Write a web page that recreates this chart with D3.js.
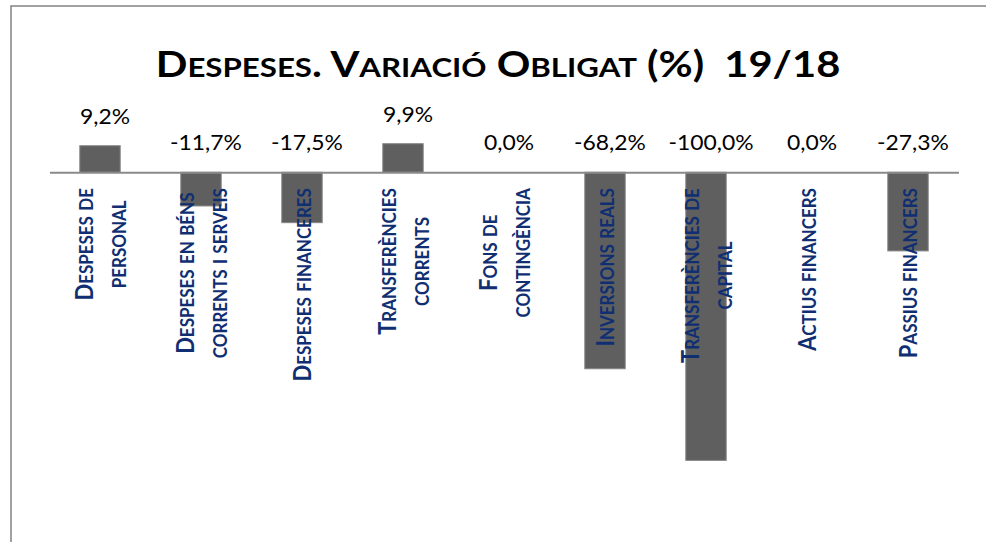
<!DOCTYPE html>
<html><head><meta charset="utf-8">
<script src="https://cdn.jsdelivr.net/npm/d3@7"></script>
<style>
html,body{margin:0;padding:0;background:#fff;overflow:hidden}
svg{display:block}
</style></head>
<body>
<script>
const titleText = "Despeses. Variació Obligat (%)  19/18";
const categories = [
  "Despeses de\npersonal",
  "Despeses en béns\ncorrents i serveis",
  "Despeses financeres",
  "Transferències\ncorrents",
  "Fons de\ncontingència",
  "Inversions reals",
  "Transferències de\ncapital",
  "Actius financers",
  "Passius financers"
];
const values = [9.2, -11.7, -17.5, 9.9, 0.0, -68.2, -100.0, 0.0, -27.3];
const yDomain = [-120, 40];

const W = 986, H = 542;
const FONT = "Lato, 'Noto Sans', sans-serif";
const svg = d3.select("body").append("svg").attr("width", W).attr("height", H);

// chart frame
svg.append("rect").attr("x", 11).attr("y", 6).attr("width", W + 20).attr("height", H + 20)
  .attr("fill", "#fff").attr("stroke", "#8a8a8a").attr("stroke-width", 1.6);

const x = d3.scaleBand().domain(d3.range(categories.length)).range([49.5, 958.5])
  .paddingInner(0.6).paddingOuter(0.3);
const y = d3.scaleLinear().domain(yDomain).range([518, 57]);

const loc = d3.formatLocale({decimal: ",", thousands: ".", grouping: [3], currency: ["", "€"], minus: "-"});
const fmt = loc.format(".1f");

// small-caps helper: uppercase letters big, lowercase letters as smaller capitals
function smallCaps(textSel, str, big, small) {
  const runs = [];
  for (const ch of str) {
    const isLower = ch !== ch.toUpperCase();
    const size = isLower ? small : big;
    const last = runs[runs.length - 1];
    if (last && last.size === size) last.t += ch.toUpperCase();
    else runs.push({size, t: ch.toUpperCase()});
  }
  runs.forEach(r => textSel.append("tspan").attr("font-size", r.size).text(r.t));
  return textSel;
}

// bars
svg.append("g").selectAll("rect").data(values).join("rect")
  .attr("x", (d, i) => x(i))
  .attr("width", x.bandwidth())
  .attr("y", d => y(Math.max(0, d)))
  .attr("height", d => Math.abs(y(d) - y(0)))
  .attr("fill", "#5f5f5f").attr("stroke", "#858585").attr("stroke-width", 1);

// axis line
const axis = d3.axisBottom(x).tickSize(0).tickFormat("");
svg.append("g").attr("transform", `translate(0,${y(0)})`).call(axis)
  .call(g => g.select(".domain").attr("stroke", "#8a8a8a").attr("stroke-width", 2));

// value labels
svg.append("g").selectAll("text").data(values).join("text")
  .attr("transform", (d, i) => `translate(${x(i) + x.bandwidth() / 2 + 5},${y(Math.max(0, d)) - 22}) scale(1.09,1)`)
  .attr("text-anchor", "middle")
  .attr("font-family", FONT)
  .attr("font-size", 21)
  .attr("fill", "#000")
  .text(d => (d === 0 ? "0,0" : fmt(d)) + "%");

// category labels (rotated, lines centred on the longest, longest ends at top)
const labTop = 188;
const lineGap = 33 / 1.15;
const BIG = 22, SMALL = 17;
const cg = svg.append("g");
categories.forEach((c, i) => {
  const lines = c.split("\n");
  const cx = x(i) + x.bandwidth() / 2 + 2;
  const g = cg.append("g");
  const texts = lines.map((ln, k) => {
    const t = g.append("text")
      .attr("text-anchor", "middle")
      .attr("font-family", FONT)
      .attr("font-weight", "bold")
      .attr("fill", "#102f72")
      .attr("x", 0)
      .attr("y", (k - (lines.length - 1) / 2) * lineGap + SMALL * 0.38);
    return smallCaps(t, ln, BIG, SMALL);
  });
  const maxLen = d3.max(texts, t => t.node().getComputedTextLength());
  g.attr("transform", `translate(${cx},${labTop + maxLen / 2}) scale(1.15,1) rotate(-90)`);
});

// title
const title = svg.append("text")
  .attr("transform", "translate(498,77) scale(1.157,1)")
  .attr("text-anchor", "middle")
  .attr("font-family", FONT)
  .attr("font-weight", "bold")
  .style("white-space", "pre")
  .attr("fill", "#000");
smallCaps(title, titleText, 36, 27);
</script>
</body></html>
